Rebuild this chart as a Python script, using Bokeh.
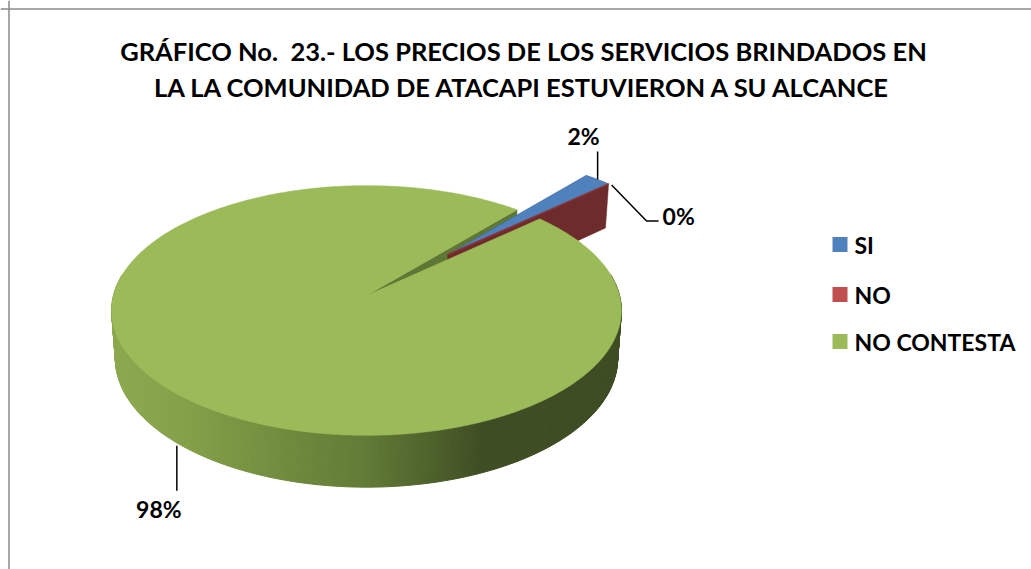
import numpy as np
from bokeh.plotting import figure
from bokeh.models import Range1d, Span
from bokeh.core.properties import value
from bokeh.embed import file_html
from bokeh.resources import INLINE

# ---------------- data ----------------
title_lines = ["GRÁFICO No.\u00a0\u00a023.- LOS PRECIOS DE LOS SERVICIOS BRINDADOS EN",
               "LA LA COMUNIDAD DE ATACAPI ESTUVIERON A SU ALCANCE"]
categories = ["SI", "NO", "NO CONTESTA"]
percentages = [2, 0, 98]
top_colors = ["#4F81BD", "#C0504D", "#9BBB59"]
exploded = [True, True, False]

FONT = "Lato"

# ---------------- 3D pie geometry (perspective) ----------------
START = 49.5            # first slice angle (deg, counter-clockwise from east)
EXPLODE = 0.48
H = 0.219               # thickness (radius units)
F, D = 1842.0, 7.28
elev = np.radians(29.1)
s_e, c_e = np.sin(elev), np.cos(elev)
OX, OY = 366.0, 295.0


def proj(X, Z, Y=0.0):
    X = np.asarray(X, float); Z = np.asarray(Z, float)
    yc = Y * c_e + Z * s_e
    zc = D + Z * c_e - Y * s_e
    return OX + F * X / zc, OY - F * yc / zc


# slice angle spans (clockwise)
spans = []
a = START
for v in percentages:
    a2 = a - 360.0 * v / 100.0
    spans.append((a, a2))
    a = a2

# explosion offset for the exploded group
grp = [spans[i] for i in range(len(spans)) if exploded[i]]
g_mid = np.radians((grp[0][0] + grp[-1][1]) / 2.0)
offsets = []
for i in range(len(spans)):
    if exploded[i]:
        offsets.append((EXPLODE * np.cos(g_mid), EXPLODE * np.sin(g_mid)))
    else:
        offsets.append((0.0, 0.0))


def rim(i, phis, Y=0.0):
    ox, oz = offsets[i]
    r = np.radians(phis)
    return proj(ox + np.cos(r), oz + np.sin(r), Y)


def apex(i, Y=0.0):
    ox, oz = offsets[i]
    x, y = proj(ox, oz, Y)
    return float(x), float(y)


def wall(i, phi):
    ax, ay = apex(i)
    bx, by = apex(i, -H)
    tx, ty = rim(i, np.array([phi]))
    dx, dy = rim(i, np.array([phi]), -H)
    return [ax, float(tx[0]), float(dx[0]), bx], [ay, float(ty[0]), float(dy[0]), by]


p = figure(width=1031, height=569, output_backend="svg", toolbar_location=None,
           x_range=Range1d(0, 1031), y_range=Range1d(569, 0),
           min_border=0, outline_line_color=None)
p.axis.visible = False
p.grid.visible = False
p.background_fill_color = "white"

# chart border (left / top)
p.add_layout(Span(location=8.5, dimension="height", line_color="#8a8a8a", line_width=1.5))
p.add_layout(Span(location=8.5, dimension="width", line_color="#8a8a8a", line_width=1.5))

iG = 2
# ---- green outer side wall with shading ----
phis = np.linspace(170, 370, 241)
tx, ty = rim(iG, phis)
bx, by = rim(iG, phis, -H)
stops_t = [0.0, 0.15, 0.35, 0.5, 0.62, 0.73, 1.0]
stops_c = [(0x8D, 0xA9, 0x50), (0x84, 0xA0, 0x49), (0x70, 0x8B, 0x3E), (0x62, 0x7B, 0x37),
           (0x50, 0x64, 0x2D), (0x3F, 0x4E, 0x24), (0x3E, 0x4C, 0x23)]
xmin, xmax = tx.min(), tx.max()
sx_list, sy_list, cols = [], [], []
for k in range(len(phis) - 1):
    xm = (tx[k] + tx[k + 1]) / 2
    t = (xm - xmin) / (xmax - xmin)
    rgb = [int(np.interp(t, stops_t, [c[j] for c in stops_c])) for j in range(3)]
    cols.append("#%02x%02x%02x" % tuple(rgb))
    sx_list.append([tx[k], tx[k + 1], bx[k + 1], bx[k]])
    sy_list.append([ty[k], ty[k + 1], by[k + 1], by[k]])
p.patches(sx_list, sy_list, fill_color=cols, line_color=cols, line_width=1)

# ---- green radial wall (visible one) ----
wx, wy = wall(iG, spans[iG][1] + 360)
p.patch(wx, wy, fill_color="#5F7734", line_color="#5F7734", line_width=0.5)

# ---- exploded small slices ----
iS, iN = 0, 1
rx, ry = wall(iN, spans[iN][1])
p.patch(rx, ry, fill_color="#6E2B2B", line_color="#6E2B2B", line_width=0.5)
ax_, ay_ = apex(iS)
arc = np.linspace(spans[iS][0], spans[iS][1], 20)
ax2, ay2 = rim(iS, arc)
p.patch([ax_] + list(ax2), [ay_] + list(ay2), fill_color=top_colors[iS],
        line_color="#3F6EA6", line_width=0.8)
nx, ny = rim(iN, np.array([spans[iN][1]]))
axn, ayn = apex(iN)
p.line([axn, float(nx[0])], [ayn, float(ny[0])], line_color="#8C3331", line_width=1.5)

# ---- green top face ----
gx0, gy0 = apex(iG)
arcg = np.linspace(spans[iG][0], spans[iG][1], 400)
gx, gy = rim(iG, arcg)
p.patch([gx0] + list(gx), [gy0] + list(gy), fill_color=top_colors[iG],
        line_color=top_colors[iG], line_width=0.5)

# ---------------- data labels with leader lines ----------------
lab_font = dict(text_font=value(FONT), text_font_style="bold", text_font_size="23px",
                text_color="#000000")
# SI
m = np.array([(spans[iS][0] + spans[iS][1]) / 2])
lx, ly = rim(iS, m)
lx, ly = float(lx[0]), float(ly[0])
p.line([lx, lx], [ly, ly - 28], line_color="black", line_width=1.5)
p.text([lx - 14], [ly - 44], text=["%d%%" % percentages[iS]], text_align="center",
       text_baseline="middle", **lab_font)
# NO
lx, ly = float(nx[0]), float(ny[0])
p.line([lx + 3, lx + 38, lx + 50], [ly + 1, ly + 37, ly + 37], line_color="black", line_width=1.5)
p.text([lx + 54], [ly + 32], text=["%d%%" % percentages[iN]], text_align="left",
       text_baseline="middle", **lab_font)
# NO CONTESTA
m = np.array([(spans[iG][0] + spans[iG][1]) / 2 + 360])
lx, ly = rim(iG, m, -H)
lx, ly = float(lx[0]), float(ly[0])
p.line([lx, lx], [ly + 3, ly + 48], line_color="black", line_width=1.5)
p.text([lx - 18], [ly + 66], text=["%d%%" % percentages[iG]], text_align="center",
       text_baseline="middle", **lab_font)

# ---------------- title ----------------
for k, line in enumerate(title_lines):
    p.text([523], [50 + 36 * k], text=[line], text_align="center", text_baseline="middle",
           text_font=value(FONT), text_font_style="bold", text_font_size="25.5px",
           text_color="#000000")

# ---------------- legend ----------------
leg_y = [244, 294, 341]
p.rect([839.5] * 3, leg_y, width=15, height=15, fill_color=top_colors, line_color=None)
p.text([854] * 3, leg_y, text=categories, text_align="left", text_baseline="middle",
       text_font=value(FONT), text_font_style="bold", text_font_size="23px",
       text_color="#000000")

open("out.html", "w").write(file_html(p, INLINE))
